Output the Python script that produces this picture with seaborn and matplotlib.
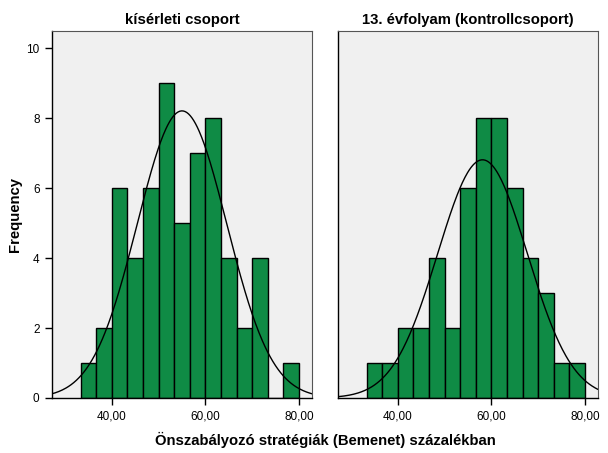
import numpy as np
import pandas as pd
import matplotlib
matplotlib.use("Agg")
import matplotlib.pyplot as plt
import seaborn as sns

# === Data ===
bin_edges = [33.33, 36.67, 40.0, 43.33, 46.67, 50.0, 53.33, 56.67, 60.0,
             63.33, 66.67, 70.0, 73.33, 76.67, 80.0]
counts_exp = [1, 2, 6, 4, 6, 9, 5, 7, 8, 4, 2, 4, 0, 1]
counts_ctrl = [1, 1, 2, 2, 4, 2, 6, 8, 8, 6, 4, 3, 1, 1]
panel_titles = ["kísérleti csoport", "13. évfolyam (kontrollcsoport)"]
means = [55.0, 58.1]
sds = [9.57, 9.58]
xticks = [40, 60, 80]
xticklabels = ["40,00", "60,00", "80,00"]
yticks = [0, 2, 4, 6, 8, 10]

sns.set_style("white")
plt.rcParams["font.family"] = ["Liberation Sans", "DejaVu Sans"]
plt.rcParams["text.color"] = "black"

fig = plt.figure(figsize=(6.08, 4.53), dpi=100)
ax1 = fig.add_axes([52 / 608, 1 - 398 / 453, 260 / 608, 367 / 453])
ax2 = fig.add_axes([338 / 608, 1 - 398 / 453, 260 / 608, 367 / 453])

centers = [(a + b) / 2 for a, b in zip(bin_edges[:-1], bin_edges[1:])]
width = bin_edges[1] - bin_edges[0]
xs = np.linspace(27.2, 82.8, 300)

for ax, counts, title, mu, sd in zip([ax1, ax2], [counts_exp, counts_ctrl],
                                     panel_titles, means, sds):
    df = pd.DataFrame({"x": centers, "w": counts})
    sns.histplot(data=df, x="x", weights="w", bins=bin_edges, ax=ax,
                 color="#0F8B45", edgecolor="black", linewidth=1.0, alpha=1)
    n = sum(counts)
    curve = n * width / (sd * np.sqrt(2 * np.pi)) * np.exp(-0.5 * ((xs - mu) / sd) ** 2)
    sns.lineplot(x=xs, y=curve, ax=ax, color="black", linewidth=1.0)

    ax.set_facecolor("#F0F0F0")
    ax.set_xlim(27.2, 82.8)
    ax.set_ylim(0, 10.5)
    ax.set_xticks(xticks)
    ax.set_xticklabels(xticklabels)
    ax.set_yticks(yticks)
    ax.set_xlabel("")
    ax.set_ylabel("")
    ax.tick_params(axis="both", direction="out", length=5, width=1,
                   colors="black", labelcolor="black", labelsize=8.5, pad=4,
                   bottom=True, left=True)
    for side in ["top", "right"]:
        ax.spines[side].set_color("#555555")
        ax.spines[side].set_linewidth(0.8)
    for side in ["left", "bottom"]:
        ax.spines[side].set_color("black")
        ax.spines[side].set_linewidth(1.0)
    ax.set_title(title, fontsize=10.7, fontweight="bold", pad=5, color="black")

ax2.tick_params(axis="y", left=False, labelleft=False)

fig.text(325 / 608, 1 - 440 / 453, "Önszabályozó stratégiák (Bemenet) százalékban",
         ha="center", va="center", fontsize=10.7, fontweight="bold", color="black")
fig.text(15 / 608, 1 - 215 / 453, "Frequency", ha="center", va="center",
         rotation=90, fontsize=10.7, fontweight="bold", color="black")

fig.savefig("out.png", dpi=100)
plt.close(fig)
